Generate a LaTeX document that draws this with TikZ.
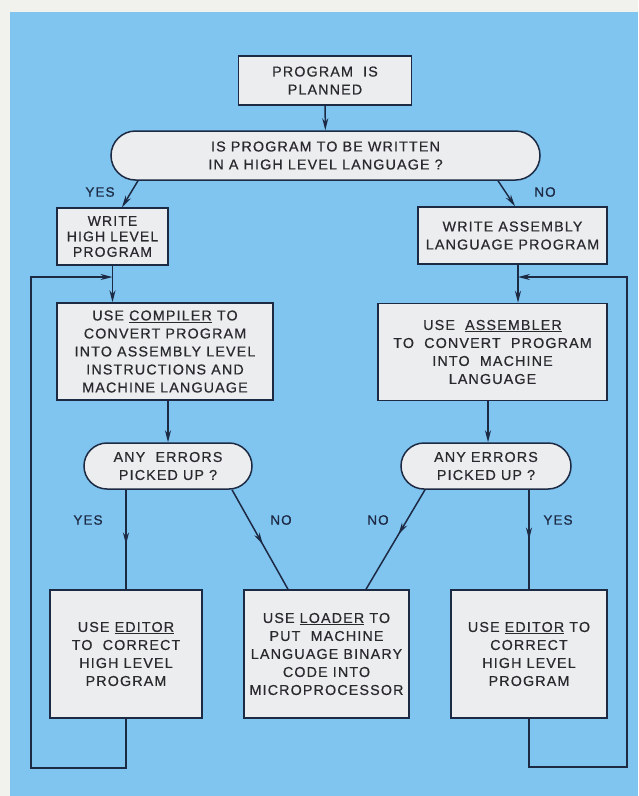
\documentclass[tikz,border=0pt]{standalone}
\usepackage{fontspec}
\setmainfont[LetterSpace=8,FakeBold=0.6]{Liberation Sans}
\usetikzlibrary{arrows.meta,shapes.misc,calc,decorations.markings}
\definecolor{bg}{HTML}{80C4F0}
\definecolor{paper}{HTML}{F1F1EE}
\definecolor{boxfill}{HTML}{ECEDEE}
\definecolor{ink}{HTML}{1D2A44}
\definecolor{txt}{HTML}{2A2A2E}
\begin{document}
\begin{tikzpicture}[x=1pt,y=-1pt,
  box/.style={draw=ink, line width=1.5pt, fill=boxfill, inner sep=0pt, align=center,
    text=txt, font=\fontsize{14.3}{18}\selectfont},
  term/.style={box, rounded rectangle},
  tip/.tip={Stealth[length=12pt,width=6pt]},
  arr/.style={draw=ink, line width=1.5pt, -tip},
  mid/.style={draw=ink, line width=1.5pt, postaction={decorate},
    decoration={markings, mark=at position #1 with {\arrow{tip}}}},
  lbl/.style={text=ink, font=\fontsize{13.5}{16}\selectfont, inner sep=0pt}]
\useasboundingbox (0,0) rectangle (638,796);
\fill[paper] (0,0) rectangle (638,796);
\fill[bg] (10,12) rectangle (638,796);

% nodes
\node[box, minimum width=173pt, minimum height=49pt] (plan) at (325,80.5) {PROGRAM\ \ IS\\PLANNED};
\node[term, minimum width=429pt, minimum height=49pt] (q1) at (325.5,155.5) {IS PROGRAM TO BE WRITTEN\\IN A HIGH LEVEL LANGUAGE ?};
\node[box, minimum width=111pt, minimum height=57pt, font=\fontsize{14}{15.5}\selectfont] (whl) at (112.5,236.5) {WRITE\\HIGH LEVEL\\PROGRAM};
\node[box, minimum width=189pt, minimum height=57pt] (wasm) at (512.5,235.5) {WRITE\ ASSEMBLY\\LANGUAGE PROGRAM};
\node[box, minimum width=216pt, minimum height=97pt] (comp) at (165,351.5) {USE \underline{COMPILER} TO\\CONVERT PROGRAM\\INTO ASSEMBLY LEVEL\\INSTRUCTIONS AND\\MACHINE LANGUAGE};
\node[box, minimum width=229pt, minimum height=97pt] (asm) at (492.5,352) {USE\ \ \underline{ASSEMBLER}\\TO\ \ CONVERT\ \ PROGRAM\\INTO\ \ MACHINE\\LANGUAGE};
\node[term, minimum width=168pt, minimum height=46pt] (err1) at (168,466) {ANY\ \ ERRORS\\PICKED UP ?};
\node[term, minimum width=170pt, minimum height=46pt] (err2) at (486,466) {ANY ERRORS\\PICKED UP ?};
\node[box, minimum width=152pt, minimum height=128pt] (ed1) at (126,654) {USE \underline{EDITOR}\\TO\ \ CORRECT\\HIGH LEVEL\\PROGRAM};
\node[box, minimum width=165pt, minimum height=128pt] (load) at (326.5,654) {USE \underline{LOADER} TO\\PUT\ \ MACHINE\\LANGUAGE BINARY\\CODE INTO\\MICROPROCESSOR};
\node[box, minimum width=156pt, minimum height=128pt] (ed2) at (529,654) {USE \underline{EDITOR} TO\\CORRECT\\HIGH LEVEL\\PROGRAM};

% labels
\node[lbl] (l1) at (100,192) {YES};
\node[lbl] (l2) at (545,192) {NO};
\node[lbl] (l3) at (88,520) {YES};
\node[lbl] (l4) at (281,520) {NO};
\node[lbl] (l5) at (378,520) {NO};
\node[lbl] (l6) at (558,520) {YES};

% coordinates
\coordinate (w2) at ($(wasm.south)+(5.5,0)$);
\coordinate (e2t) at ($(err2.north)+(2,0)$);
\coordinate (L1) at (31,768);
\coordinate (J1) at (112.5,277);
\coordinate (R1) at (627,767);
\coordinate (J2) at (518,277);

% connectors
\draw[arr] (plan) -- (q1);
\draw[arr] ($(q1.south)+(-187.5,0)$) -- ($(whl.north)+(9.5,0)$);
\draw[arr] ($(q1.south)+(172.5,0)$) -- ($(wasm.north)+(2.5,0)$);
\draw[arr] (whl.south) -- (whl.south |- comp.north);
\draw[arr] (w2) -- (w2 |- asm.north);
\draw[arr] (err1.north |- comp.south) -- (err1.north);
\draw[arr] (e2t |- asm.south) -- (e2t);
\draw[mid=0.55] (ed1.north |- err1.south) -- (ed1.north);
\draw[mid=0.55] ($(err1.south)+(64,0)$) -- ($(load.north)+(-38.5,0)$);
\draw[mid=0.45] ($(err2.south)+(-61,0)$) -- ($(load.north)+(39.5,0)$);
\draw[mid=0.5] (ed2.north |- err2.south) -- (ed2.north);
\draw[arr] (ed1.south) |- (L1) |- (J1);
\draw[arr] (ed2.south) |- (R1) |- (J2);
\end{tikzpicture}
\end{document}
